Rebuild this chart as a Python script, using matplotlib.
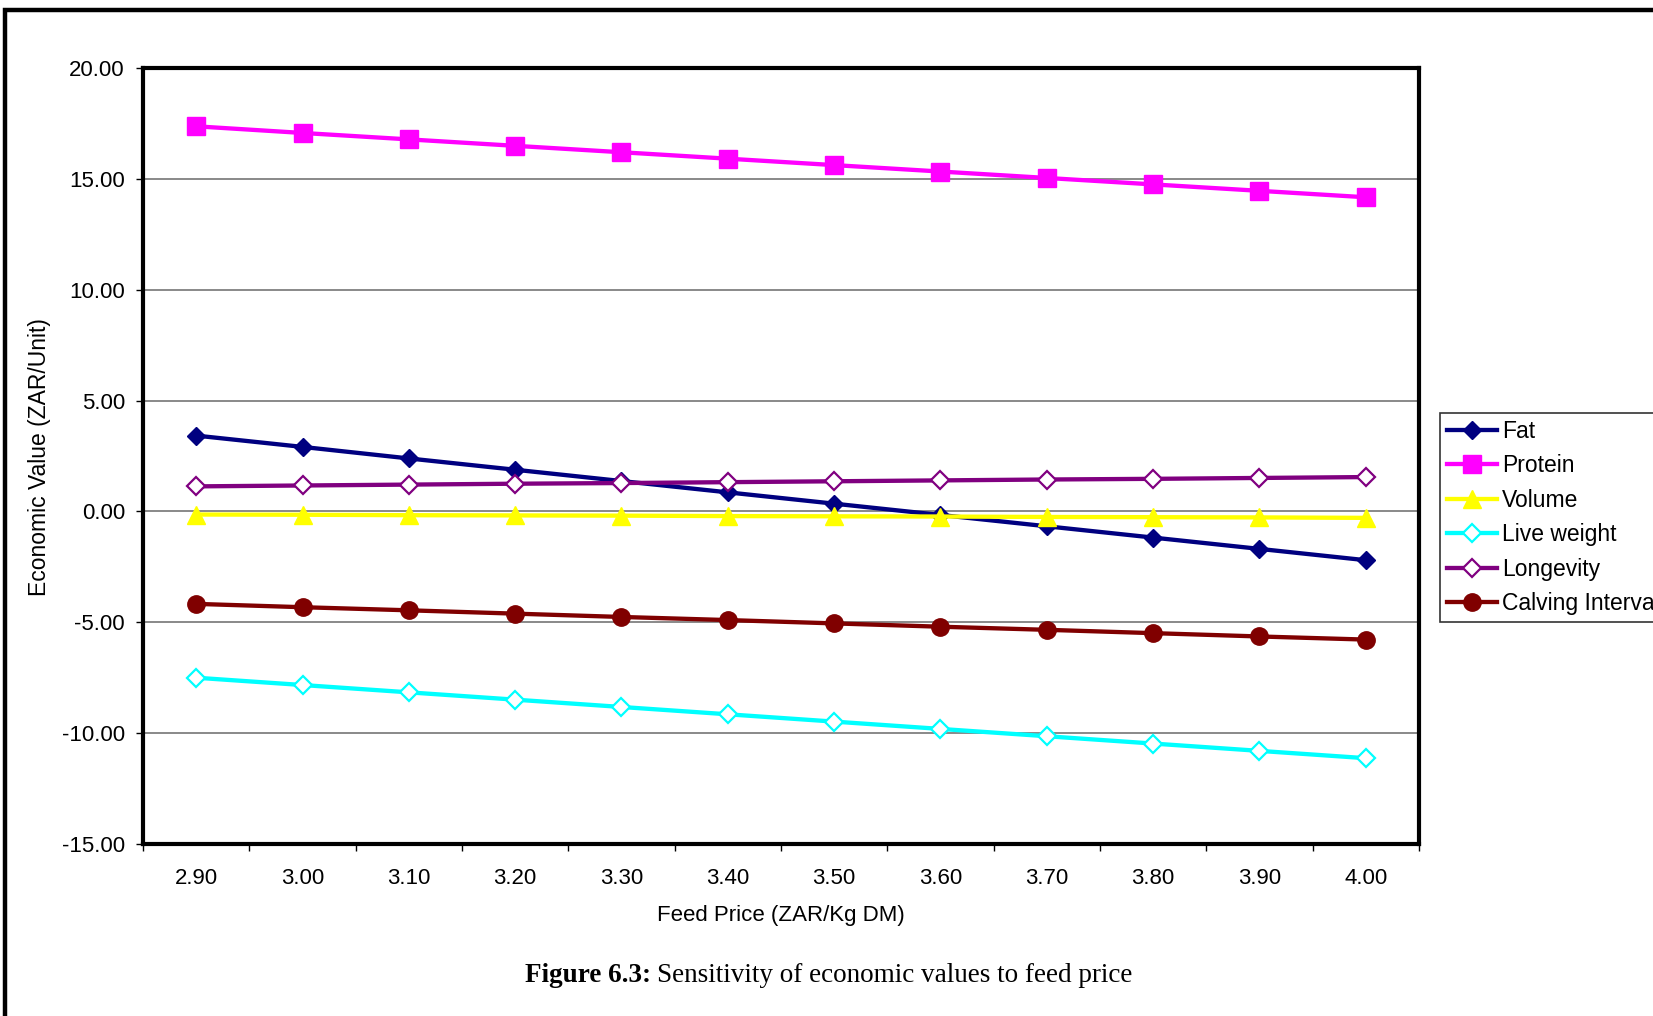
import matplotlib
matplotlib.use("Agg")
from matplotlib import pyplot as plt
from matplotlib.patches import Rectangle
import numpy

# feed price categories (x axis)
feed_price = ["2.90", "3.00", "3.10", "3.20", "3.30", "3.40",
              "3.50", "3.60", "3.70", "3.80", "3.90", "4.00"]

# economic values (ZAR/Unit)
fat = [3.42, 2.91, 2.39, 1.88, 1.37, 0.86, 0.35, -0.16, -0.67, -1.18, -1.69, -2.20]
protein = [17.37, 17.07, 16.78, 16.49, 16.20, 15.91, 15.62, 15.33, 15.04, 14.75, 14.46, 14.17]
volume = [-0.14, -0.15, -0.17, -0.18, -0.19, -0.21, -0.22, -0.23, -0.25, -0.26, -0.27, -0.29]
live_weight = [-7.50, -7.83, -8.16, -8.49, -8.82, -9.15, -9.48, -9.81, -10.14, -10.47, -10.80, -11.13]
longevity = [1.13, 1.17, 1.21, 1.25, 1.28, 1.32, 1.36, 1.40, 1.44, 1.47, 1.51, 1.55]
calving_interval = [-4.17, -4.32, -4.46, -4.61, -4.76, -4.90, -5.05, -5.20, -5.34, -5.49, -5.64, -5.78]

y_ticks = [20, 15, 10, 5, 0, -5, -10, -15]

W, H = 1653, 1016

plt.rcParams['font.family'] = ['Liberation Sans', 'DejaVu Sans']

figure = plt.figure(figsize=(W / 100, H / 100), dpi=100)

# outer frame of the page (runs off right and bottom)
figure.patches.append(Rectangle((5 / W, -0.1), 1.2, 1 - 10 / H + 0.1,
                                transform=figure.transFigure, fill=False,
                                edgecolor="black", linewidth=3.2, zorder=0))

left, right, top, bottom = 143, 1419, 68, 844
ax = figure.add_axes([left / W, 1 - bottom / H, (right - left) / W, (bottom - top) / H])

x = numpy.arange(len(feed_price))

series = [
    ("Fat", fat, dict(color="#000080", marker="D", markersize=9, markerfacecolor="#000080")),
    ("Protein", protein, dict(color="#FF00FF", marker="s", markersize=12.5, markerfacecolor="#FF00FF")),
    ("Volume", volume, dict(color="#FFFF00", marker="^", markersize=13, markerfacecolor="#FFFF00")),
    ("Live weight", live_weight, dict(color="#00FFFF", marker="D", markersize=9.5,
                                      markerfacecolor="white", markeredgewidth=1.6)),
    ("Longevity", longevity, dict(color="#800080", marker="D", markersize=9.5,
                                  markerfacecolor="white", markeredgewidth=1.6)),
    ("Calving Interval", calving_interval, dict(color="#800000", marker="o", markersize=12.5,
                                                markerfacecolor="#800000")),
]

for label, values, style in series:
    ax.plot(x, values, linewidth=3.1, label=label, clip_on=False, **style)

ax.set_xlim(-0.5, len(feed_price) - 0.5)
ax.set_ylim(-15, 20)

# category labels centred, tick marks on the boundaries
ax.set_xticks(x)
ax.set_xticklabels(feed_price)
ax.set_xticks(numpy.arange(-0.5, len(feed_price)), minor=True)
ax.tick_params(axis="x", which="major", length=0, pad=17, labelsize=16)
ax.tick_params(axis="x", which="minor", length=5, width=1, direction="out")

ax.set_yticks(y_ticks)
ax.set_yticklabels(["%.2f" % v for v in y_ticks])
ax.tick_params(axis="y", length=5, width=1, direction="out", pad=8, labelsize=16)

for v in y_ticks[1:-1]:
    ax.axhline(v, color="#808080", linewidth=1.3, zorder=0)

for spine in ax.spines.values():
    spine.set_linewidth(3)
    spine.set_color("black")

figure.text(781 / W, 1 - 915 / H, "Feed Price (ZAR/Kg DM)", ha="center", va="center", fontsize=16)
figure.text(40 / W, 1 - 457 / H, "Economic Value (ZAR/Unit)", ha="center", va="center",
            rotation=90, fontsize=16.5)

leg = figure.legend(loc="upper left", bbox_to_anchor=(1440 / W, 1 - 413 / H),
                    fontsize=16.5, frameon=True, fancybox=False, edgecolor="black",
                    borderaxespad=0, borderpad=0.3, labelspacing=0.5,
                    handlelength=2.2, handletextpad=0.2)
leg.get_frame().set_linewidth(1.2)

# caption: bold part and regular part
figure.text(651 / W, 1 - 976 / H, "Figure 6.3:", ha="right", va="center",
            fontsize=19.5, fontweight="bold", family="Liberation Serif")
figure.text(657 / W, 1 - 976 / H, "Sensitivity of economic values to feed price", ha="left",
            va="center", fontsize=19.5, family="Liberation Serif")

figure.savefig("out.png", dpi=100)
